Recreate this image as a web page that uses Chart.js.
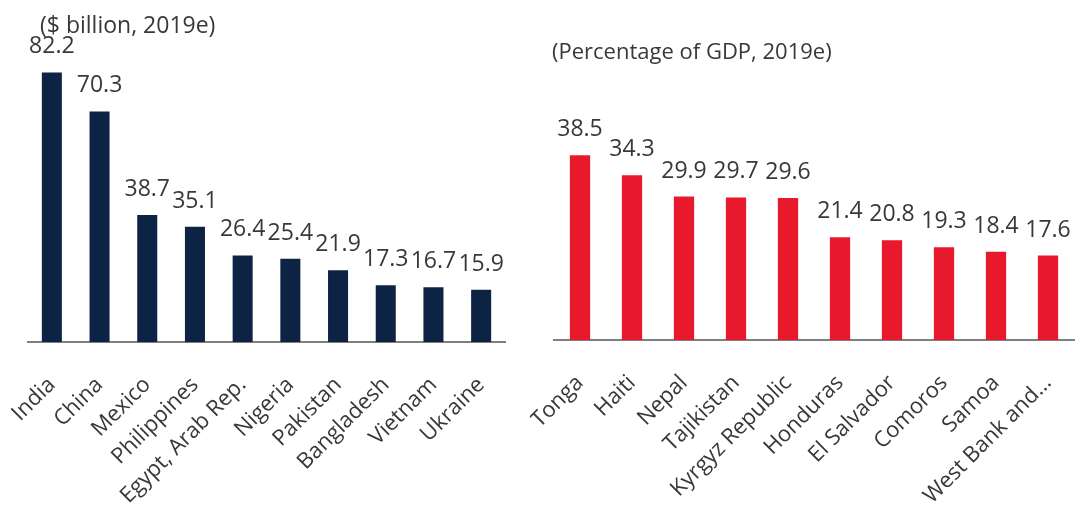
<!DOCTYPE html>
<html>
<head>
<meta charset="utf-8">
<script src="https://cdn.jsdelivr.net/npm/chart.js@4/dist/chart.umd.min.js"></script>
<style>
  html, body { margin: 0; padding: 0; background: #fff; }
  #wrap { position: relative; width: 1076px; height: 508px; overflow: hidden; font-family: "Open Sans", sans-serif; }
  .box { position: absolute; top: 0; height: 508px; }
  .title { position: absolute; color: #383838; white-space: nowrap; }
</style>
</head>
<body>
<div id="wrap">
  <div class="box" style="left:0;width:530px"><canvas id="leftChart"></canvas></div>
  <div class="box" style="left:530px;width:546px"><canvas id="rightChart"></canvas></div>
  <div class="title" style="left:40px;top:8px;font-size:23px">($ billion, 2019e)</div>
  <div class="title" style="left:552px;top:35px;font-size:22px">(Percentage of GDP, 2019e)</div>
</div>
<script>
const leftCountries = ["India", "China", "Mexico", "Philippines", "Egypt, Arab Rep.", "Nigeria", "Pakistan", "Bangladesh", "Vietnam", "Ukraine"];
const leftValues = [82.2, 70.3, 38.7, 35.1, 26.4, 25.4, 21.9, 17.3, 16.7, 15.9];

const rightCountries = ["Tonga", "Haiti", "Nepal", "Tajikistan", "Kyrgyz Republic", "Honduras", "El Salvador", "Comoros", "Samoa", "West Bank and..."];
const rightValues = [38.5, 34.3, 29.9, 29.7, 29.6, 21.4, 20.8, 19.3, 18.4, 17.6];

const textColor = "#383838";
const fontName = "'Open Sans', sans-serif";

// draws the value above each bar
const valueLabels = {
    id: "valueLabels",
    afterDatasetsDraw(chart) {
        const ctx = chart.ctx;
        const meta = chart.getDatasetMeta(0);
        ctx.save();
        ctx.font = "23px " + fontName;
        ctx.fillStyle = textColor;
        ctx.textAlign = "center";
        ctx.textBaseline = "bottom";
        meta.data.forEach((bar, i) => {
            const v = chart.data.datasets[0].data[i];
            ctx.fillText(v.toFixed(1), bar.x, bar.y - 14);
        });
        ctx.restore();
    }
};

function makeChart(id, labels, values, color, yMax, pad, axisHeight, barPct) {
    const ctx = document.getElementById(id).getContext("2d");
    return new Chart(ctx, {
        type: "bar",
        data: {
            labels: labels,
            datasets: [{
                data: values,
                backgroundColor: color,
                borderWidth: 0,
                barPercentage: barPct,
                categoryPercentage: 1
            }]
        },
        options: {
            responsive: true,
            maintainAspectRatio: false,
            animation: false,
            layout: { padding: pad },
            plugins: {
                legend: { display: false },
                tooltip: { enabled: false }
            },
            scales: {
                y: { display: false, min: 0, max: yMax },
                x: {
                    grid: { display: false, drawTicks: false },
                    border: { display: true, color: "#7f7f7f", width: 2 },
                    ticks: {
                        color: textColor,
                        font: { family: fontName, size: 22 },
                        minRotation: 45,
                        maxRotation: 45,
                        autoSkip: false,
                        padding: 30
                    },
                    afterFit: (scale) => {
                        scale.height = axisHeight;
                        scale.paddingLeft = 0;
                        scale.paddingRight = 0;
                    }
                }
            }
        },
        plugins: [valueLabels]
    });
}

makeChart("leftChart", leftCountries, leftValues, "#0c2343", 100, { top: 14, left: 28, right: 25, bottom: 0 }, 166, 0.42);
makeChart("rightChart", rightCountries, rightValues, "#e8192c", 50, { top: 100, left: 24, right: 2, bottom: 0 }, 168, 0.39);
</script>
</body>
</html>
